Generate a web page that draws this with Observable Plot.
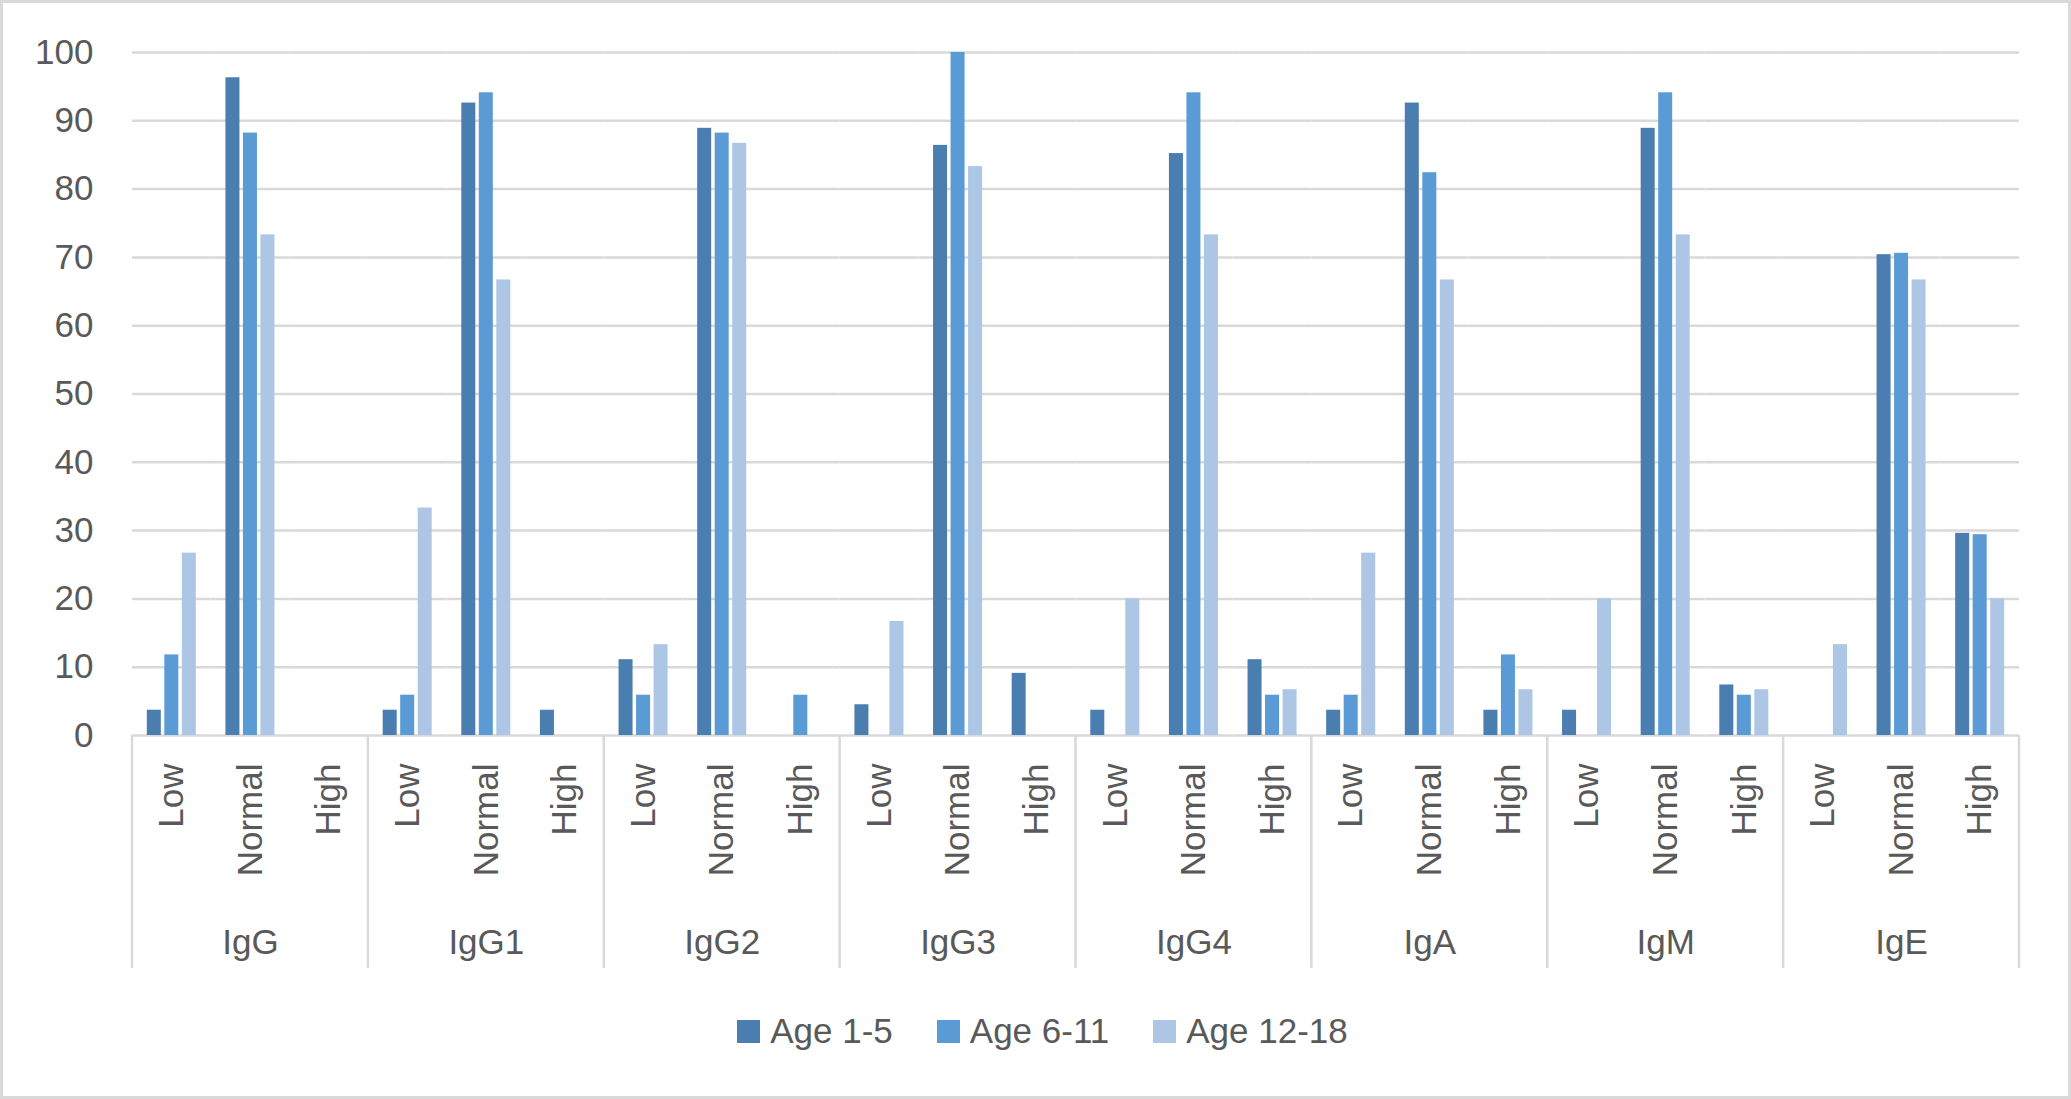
<!DOCTYPE html>
<html><head><meta charset="utf-8">
<script src="https://cdn.jsdelivr.net/npm/d3@7"></script>
<script src="https://cdn.jsdelivr.net/npm/@observablehq/plot@0.6"></script>
<style>
html,body{margin:0;padding:0;background:#fff;}
#chart{width:2071px;height:1099px;box-sizing:border-box;border:3px solid #d9d9d9;background:#fff;overflow:hidden;font-family:"Liberation Sans",Arial,sans-serif;color:#595959;}
#plot svg{display:block;}
#legend{height:106px;display:flex;justify-content:center;align-items:flex-start;padding-top:23px;box-sizing:border-box;padding-left:14px;font-size:35px;line-height:35px;}
.item{display:flex;align-items:flex-start;margin:0 22px;}
.sw{width:23px;height:23px;margin-top:7px;margin-right:10px;}
</style></head>
<body><div id="chart"><div id="plot"></div><div id="legend"></div></div>
<script>
const groups = ["IgG","IgG1","IgG2","IgG3","IgG4","IgA","IgM","IgE"];
const levels = ["Low","Normal","High"];
const ages = ["Age 1-5","Age 6-11","Age 12-18"];
const colors = ["#4a7eb0","#5b9bd5","#adc6e6"];
// values listed per group as [Low, Normal, High]
const age1to5  = [3.7,96.3,0,  3.7,92.6,3.7,  11.1,88.9,0,  4.5,86.4,9.1,  3.7,85.2,11.1,  3.7,92.6,3.7,  3.7,88.9,7.4,  0,70.4,29.6];
const age6to11 = [11.8,88.2,0, 5.9,94.1,0,    5.9,88.2,5.9, 0,100,0,       0,94.1,5.9,     5.9,82.4,11.8, 0,94.1,5.9,    0,70.6,29.4];
const age12to18= [26.7,73.3,0, 33.3,66.7,0,   13.3,86.7,0,  16.7,83.3,0,   20,73.3,6.7,    26.7,66.7,6.7, 20,73.3,6.7,   13.3,66.7,20];
const series = [age1to5, age6to11, age12to18];

const rows = [];
const levelRows = [];
groups.forEach((g, gi) => levels.forEach((l, li) => {
  levelRows.push({key: g + "|" + l, level: l});
  ages.forEach((a, ai) => rows.push({group: g, level: l, key: g + "|" + l, age: a, value: series[ai][gi * 3 + li]}));
}));
const keys = levelRows.map(d => d.key);

const plot = Plot.plot({
  width: 2065, height: 987,
  marginTop: 49, marginBottom: 255, marginLeft: 129, marginRight: 49,
  style: {fontFamily: "'Liberation Sans', Arial, sans-serif", fontSize: "35px", color: "#595959", background: "#fff"},
  fx: {domain: keys, padding: 0, round: false, axis: null, label: null},
  x: {domain: ages, paddingInner: 0.2, paddingOuter: 0.845, round: false, axis: null},
  y: {domain: [0, 100], ticks: 10, tickSize: 0, tickPadding: 39, label: null},
  color: {domain: ages, range: colors},
  marks: [
    Plot.ruleY(d3.range(0, 101, 10), {stroke: "#d9d9d9", strokeWidth: 2.5}),
    Plot.barY(rows, {fx: "key", x: "age", y: "value", fill: "age"}),
    Plot.text(levelRows, {fx: "key", text: "level", frameAnchor: "bottom", rotate: -90, textAnchor: "end", lineAnchor: "middle", dy: 28}),
    Plot.text(groups, {fx: g => g + "|Normal", text: g => g, frameAnchor: "bottom", lineAnchor: "bottom", dy: 218})
  ]
});

// group separators of the two-level category axis, placed with Plot's fx and y scales
const fxs = plot.scale("fx"), ys = plot.scale("y");
const bw = fxs.bandwidth;
const xs = groups.map(g => fxs.apply(g + "|Low"));
xs.push(fxs.apply(groups[groups.length - 1] + "|High") + bw);
const y0 = ys.apply(0);
d3.select(plot).append("g").selectAll("line").data(xs).join("line")
  .attr("x1", d => d).attr("x2", d => d)
  .attr("y1", y0).attr("y2", ys.apply(-34.1))
  .attr("stroke", "#d9d9d9").attr("stroke-width", 2.5);

document.getElementById("plot").appendChild(plot);

const legend = d3.select("#legend");
ages.forEach((a, i) => {
  const it = legend.append("div").attr("class", "item");
  it.append("div").attr("class", "sw").style("background", colors[i]);
  it.append("span").text(a);
});
</script>
</body></html>
